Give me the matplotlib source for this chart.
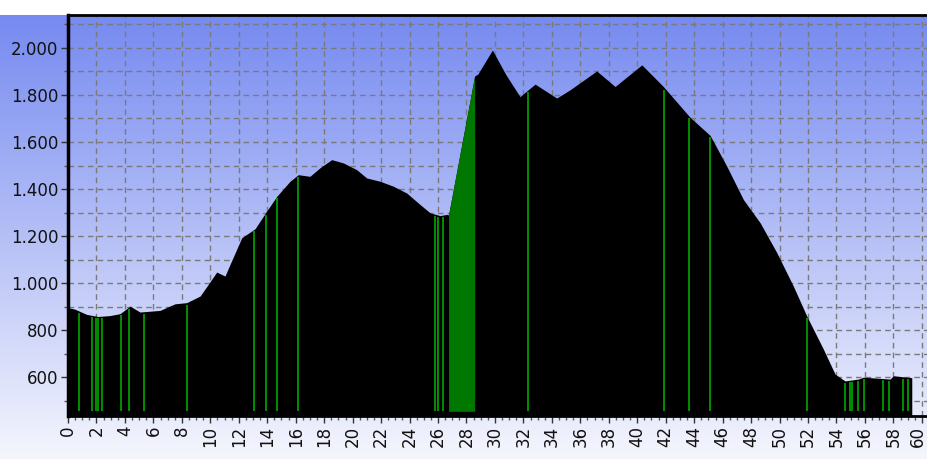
import numpy as np
import matplotlib
matplotlib.use("Agg")
import matplotlib.pyplot as plt
import matplotlib.transforms as mtransforms
from matplotlib.ticker import MultipleLocator, FuncFormatter

# ---- data ----
dist_km = [0.0, 0.49, 1.31, 2.1, 2.95, 3.65, 4.36, 5.06, 6.47, 7.52, 8.34, 9.28,
           9.86, 10.45, 11.03, 11.38, 12.21, 13.14, 13.96, 14.67, 15.6, 16.18,
           17.0, 17.7, 18.53, 19.35, 20.29, 20.99, 21.93, 22.86, 23.8, 24.74,
           25.44, 26.14, 26.61, 26.74, 28.57, 28.81, 29.82, 30.78, 31.76, 32.82,
           34.34, 35.28, 37.15, 38.44, 40.32, 41.83, 43.71, 45.12, 46.29, 47.46,
           48.64, 49.8, 50.97, 51.91, 53.08, 53.9, 54.6, 55.54, 55.89, 57.77,
           58.0, 58.94, 59.29]
elev_m = [896, 889, 867, 858, 862, 870, 902, 877, 884, 912, 917, 945,
          995, 1047, 1030, 1079, 1193, 1231, 1306, 1369, 1433, 1461,
          1454, 1490, 1525, 1511, 1482, 1447, 1433, 1412, 1383, 1334,
          1299, 1287, 1292, 1290, 1880, 1890, 1991, 1885, 1793, 1846,
          1787, 1822, 1902, 1836, 1928, 1836, 1705, 1628, 1497, 1355,
          1256, 1130, 987, 860, 719, 613, 584, 592, 600, 592,
          606, 600, 598]
green_lines_km = [0.80, 1.71, 1.97, 2.08, 2.37, 3.72, 4.29, 5.36, 8.34, 13.09,
                  13.89, 14.67, 16.18, 25.79, 26.02, 26.33, 32.3, 41.9, 43.66,
                  45.1, 51.9, 54.6, 54.95, 55.1, 55.5, 55.9, 57.3, 57.7, 58.7,
                  59.05]
green_span_km = [26.74, 28.57]
y_ticks = [600, 800, 1000, 1200, 1400, 1600, 1800, 2000]
x_ticks = list(range(0, 61, 2))

YMIN, YMAX = 435, 2140
XMIN, XMAX = 0, 60.36

W, H = 927, 459
fig = plt.figure(figsize=(W / 100, H / 100), dpi=100)

# background gradient over whole figure
bg = fig.add_axes([0, 0, 1, 1], zorder=0)
bg.set_axis_off()
rows = H
top_c = np.array([118, 138, 240]) / 255.0
bot_c = np.array([245, 246, 253]) / 255.0
grad = np.zeros((rows, 1, 3))
start = 15
for r in range(rows):
    if r < start:
        grad[r, 0] = [1, 1, 1]
    else:
        t = (r - start) / (rows - start)
        grad[r, 0] = top_c * (1 - t) + bot_c * t
bg.imshow(grad, aspect="auto", extent=[0, 1, 0, 1], interpolation="bilinear")
bg.set_xlim(0, 1)
bg.set_ylim(0, 1)

left = 68 / W
right = 927 / W
bottom = 1 - 416 / H
top = 1 - 15 / H
ax = fig.add_axes([left, bottom, right - left, top - bottom], zorder=1)
ax.set_facecolor("none")

x = np.array(dist_km)
y = np.array(elev_m)
ax.fill_between(x, y, YMIN, color="black", lw=0, zorder=3)

# green span
m = (x >= green_span_km[0] - 1e-9) & (x <= green_span_km[1] + 1e-9)
ax.fill_between(x[m], y[m], YMIN + 20, color="#007800", lw=0, zorder=4)

# green lines
gl = np.array(green_lines_km)
tops = np.interp(gl, x, y) - 8
ax.vlines(gl, YMIN + 20, tops, color="#009a00", lw=1.3, zorder=4)

ax.set_xlim(XMIN, XMAX)
ax.set_ylim(YMIN, YMAX)

ax.set_xticks(x_ticks)
ax.set_yticks(y_ticks)
ax.xaxis.set_minor_locator(MultipleLocator(0.5))
ax.yaxis.set_minor_locator(MultipleLocator(100))
ax.yaxis.set_major_formatter(FuncFormatter(lambda v, p: f"{int(v):,}".replace(",", ".")))
ax.set_xticklabels([str(t) for t in x_ticks], rotation=90)

ax.tick_params(axis="both", which="major", length=5, width=1, color="#333333",
               labelsize=12, labelcolor="#111111", pad=2)
ax.tick_params(axis="both", which="minor", length=3, width=1, color="#555555")

# nudge last x label so it stays inside the figure
last = ax.get_xticklabels()[-1]
last.set_transform(last.get_transform() +
                   mtransforms.ScaledTranslation(-4 / 100, 0, fig.dpi_scale_trans))

ax.grid(True, which="major", axis="x", color="#7a7a7a", ls=(0, (4, 3)), lw=1, zorder=2)
ax.grid(True, which="both", axis="y", color="#7a7a7a", ls=(0, (4, 3)), lw=1, zorder=2)
ax.set_axisbelow(True)

ax.spines["right"].set_visible(False)
ax.spines["left"].set_linewidth(2.5)
ax.spines["top"].set_linewidth(2)
ax.spines["bottom"].set_linewidth(2)
for s in ["left", "top", "bottom"]:
    ax.spines[s].set_color("black")
    ax.spines[s].set_zorder(6)

fig.savefig("out.png", dpi=100)
